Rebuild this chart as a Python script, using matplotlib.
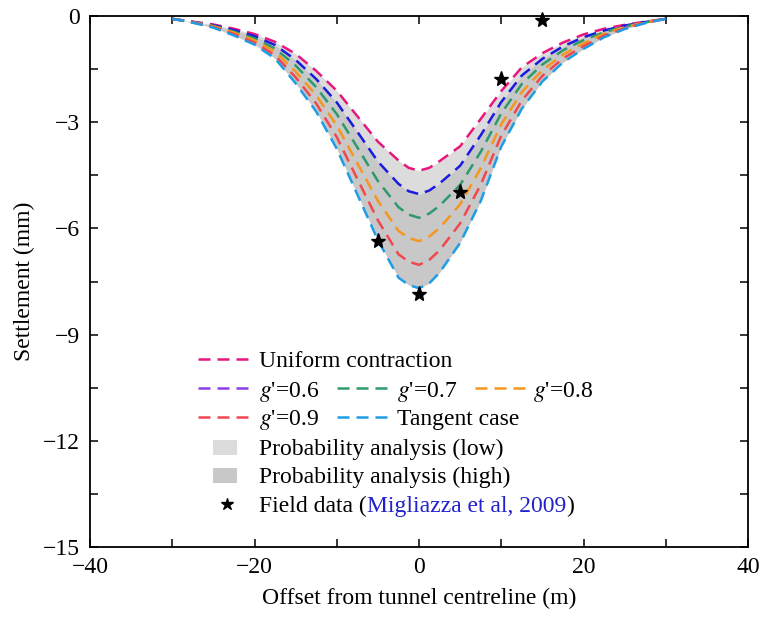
import matplotlib
matplotlib.use("Agg")
import matplotlib.pyplot as plt
from matplotlib.patches import Rectangle
from matplotlib.ticker import MultipleLocator

plt.rcParams["font.family"] = ["Liberation Serif", "DejaVu Serif"]
plt.rcParams["mathtext.fontset"] = "stix"

# offset from centreline (m)
offset = [-30, -27.5, -25, -22.5, -20, -17.5, -15, -12.5, -10, -7.5, -5, -2.5, -1.25, 0,
          1.25, 2.5, 5, 7.5, 10, 12.5, 15, 17.5, 20, 22.5, 25, 27.5, 30]

# settlement troughs (mm)
uniform = [-0.08, -0.16, -0.24, -0.36, -0.51, -0.73, -1.07, -1.55, -2.11, -2.83, -3.55, -4.08, -4.29, -4.37,
           -4.29, -4.10, -3.68, -2.91, -2.12, -1.45, -1.05, -0.75, -0.52, -0.36, -0.25, -0.16, -0.08]
g06 = [-0.08, -0.17, -0.26, -0.40, -0.57, -0.82, -1.24, -1.78, -2.44, -3.27, -4.11, -4.74, -4.95, -5.03,
       -4.93, -4.73, -4.23, -3.37, -2.43, -1.68, -1.21, -0.86, -0.60, -0.41, -0.27, -0.17, -0.08]
g07 = [-0.08, -0.17, -0.28, -0.44, -0.63, -0.92, -1.40, -2.01, -2.77, -3.71, -4.66, -5.40, -5.61, -5.70,
       -5.58, -5.36, -4.77, -3.84, -2.75, -1.92, -1.37, -0.97, -0.68, -0.46, -0.30, -0.18, -0.08]
g08 = [-0.08, -0.18, -0.29, -0.47, -0.69, -1.01, -1.57, -2.24, -3.09, -4.16, -5.22, -6.07, -6.27, -6.36,
       -6.23, -5.99, -5.32, -4.30, -3.06, -2.15, -1.53, -1.09, -0.77, -0.50, -0.32, -0.18, -0.08]
g09 = [-0.08, -0.18, -0.31, -0.51, -0.75, -1.11, -1.73, -2.47, -3.42, -4.60, -5.77, -6.73, -6.94, -7.03,
       -6.89, -6.62, -5.86, -4.77, -3.38, -2.39, -1.69, -1.20, -0.85, -0.55, -0.35, -0.19, -0.08]
tangent = [-0.08, -0.19, -0.33, -0.55, -0.81, -1.20, -1.90, -2.70, -3.75, -5.04, -6.33, -7.39, -7.60, -7.69,
           -7.55, -7.25, -6.41, -5.23, -3.69, -2.62, -1.85, -1.31, -0.93, -0.60, -0.37, -0.20, -0.08]

# field measurements
field_x = [-5, 0, 5, 10, 15]
field_y = [-6.35, -7.86, -4.96, -1.79, -0.11]

curves = [
    (uniform, "#e8177d", "#e8177d", "Uniform contraction"),
    (g06, "#1a1ae0", "#8a3fe6", "$g$'=0.6"),
    (g07, "#2e9a6c", "#2e9a6c", "$g$'=0.7"),
    (g08, "#f5961e", "#f5961e", "$g$'=0.8"),
    (g09, "#f0484e", "#f0484e", "$g$'=0.9"),
    (tangent, "#1e9de6", "#1e9de6", "Tangent case"),
]
low_grey = "#dcdcdc"
high_grey = "#c8c8c8"
dash = (0, (4.8, 2.8))
fs = 17

fig = plt.figure(figsize=(7.6, 6.21), dpi=100)
ax = fig.add_axes([90 / 760, 1 - 547 / 621, 658 / 760, 531 / 621])

ax.fill_between(offset, uniform, g06, color=low_grey, lw=0)
ax.fill_between(offset, g06, tangent, color=high_grey, lw=0)

for ys, col, _, _ in curves:
    ax.plot(offset, ys, color=col, lw=1.8, linestyle=dash)

ax.plot(field_x, field_y, "*", color="black", markersize=11, clip_on=False, zorder=5)

ax.set_xlim(-40, 40)
ax.set_ylim(-15, 0)
ax.xaxis.set_major_locator(MultipleLocator(20))
ax.xaxis.set_minor_locator(MultipleLocator(10))
ax.yaxis.set_major_locator(MultipleLocator(3))
ax.yaxis.set_minor_locator(MultipleLocator(1.5))
ax.tick_params(which="both", direction="in", top=True, right=True, length=6, width=1.1,
               labelsize=fs, pad=7)
for s in ax.spines.values():
    s.set_linewidth(1.3)
ax.set_xlabel("Offset from tunnel centreline (m)", fontsize=fs, labelpad=7)
ax.set_ylabel("Settlement (mm)", fontsize=fs, labelpad=6)

# hand-laid legend rows (axes fraction)
rows = [0.354, 0.299, 0.245, 0.188, 0.136, 0.081]
cols = [(0.164, 0.243, 0.257), (0.375, 0.453, 0.467), (0.585, 0.664, 0.673)]
slots = [(0, 0), (1, 0), (1, 1), (1, 2), (2, 0), (2, 1)]
for (ys, _, lcol, lab), (r, c) in zip(curves, slots):
    x0, x1, tx = cols[c]
    ax.plot([x0, x1], [rows[r], rows[r]], transform=ax.transAxes, color=lcol,
            lw=1.8, linestyle=dash)
    ax.text(tx, rows[r], lab, transform=ax.transAxes, fontsize=fs, va="center_baseline")

for r, col, lab in [(3, low_grey, "Probability analysis (low)"),
                    (4, high_grey, "Probability analysis (high)")]:
    ax.add_patch(Rectangle((0.187, rows[r] - 0.015), 0.036, 0.028, transform=ax.transAxes,
                           facecolor=col, edgecolor="none"))
    ax.text(0.257, rows[r], lab, transform=ax.transAxes, fontsize=fs, va="center_baseline")

ax.plot([0.208], [rows[5]], "*", color="black", markersize=9, transform=ax.transAxes)
t1 = ax.text(0.257, rows[5], "Field data (", transform=ax.transAxes, fontsize=fs,
             va="center_baseline")
t2 = ax.annotate("Migliazza et al, 2009", xy=(1, 0), xycoords=t1, va="bottom",
                 fontsize=fs, color="#2222cc")
ax.annotate(")", xy=(1, 0), xycoords=t2, va="bottom", fontsize=fs)

fig.savefig("out.png", dpi=100)
